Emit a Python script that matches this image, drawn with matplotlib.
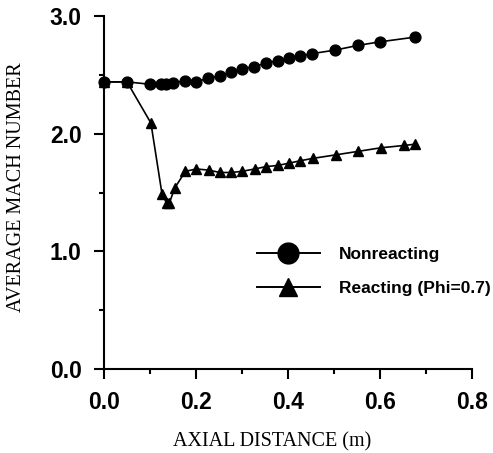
#!/usr/bin/env python3
# -*- coding: utf-8 -*-

import matplotlib
matplotlib.use("Agg")
import matplotlib.pyplot as plt
from matplotlib.lines import Line2D
from matplotlib.ticker import MultipleLocator

# 无反应流
x_nonreact = [0.0, 0.05, 0.10, 0.124, 0.135, 0.149, 0.176, 0.20, 0.225, 0.252,
              0.276, 0.30, 0.327, 0.352, 0.378, 0.402, 0.427, 0.452, 0.502,
              0.552, 0.599, 0.675]
y_nonreact = [2.44, 2.44, 2.42, 2.42, 2.42, 2.43, 2.45, 2.44, 2.47, 2.49,
              2.52, 2.55, 2.57, 2.60, 2.62, 2.64, 2.66, 2.68, 2.71,
              2.75, 2.78, 2.82]

# 反应流 (Phi=0.7)
x_react = [0.0, 0.05, 0.102, 0.126, 0.136, 0.142, 0.154, 0.177, 0.201, 0.228,
           0.252, 0.276, 0.30, 0.328, 0.352, 0.378, 0.403, 0.427, 0.454,
           0.504, 0.553, 0.602, 0.653, 0.675]
y_react = [2.44, 2.44, 2.09, 1.49, 1.41, 1.41, 1.54, 1.68, 1.70, 1.69,
           1.67, 1.67, 1.68, 1.70, 1.72, 1.73, 1.75, 1.77, 1.79,
           1.82, 1.85, 1.88, 1.90, 1.91]

labels = ["Nonreacting", "Reacting (Phi=0.7)"]

fig = plt.figure(figsize=(4.93, 4.53), dpi=100)
ax = fig.add_axes([104 / 493, 1 - 369 / 453, 368 / 493, 353 / 453])

ax.plot(x_react, y_react, color="black", lw=1.2, marker="^", ms=6.5, clip_on=False, zorder=3)
ax.plot(x_nonreact, y_nonreact, color="black", lw=1.2, marker="o", ms=7.8, clip_on=False, zorder=4)

ax.set_xlim(0, 0.8)
ax.set_ylim(0, 3.0)
ax.xaxis.set_major_locator(MultipleLocator(0.2))
ax.xaxis.set_minor_locator(MultipleLocator(0.1))
ax.yaxis.set_major_locator(MultipleLocator(1.0))
ax.yaxis.set_minor_locator(MultipleLocator(0.5))
ax.xaxis.set_major_formatter(plt.FormatStrFormatter("%.1f"))
ax.yaxis.set_major_formatter(plt.FormatStrFormatter("%.1f"))

for s in ["top", "right"]:
    ax.spines[s].set_visible(False)
for s in ["left", "bottom"]:
    ax.spines[s].set_linewidth(1.5)

ax.tick_params(which="major", direction="out", length=7, width=1.5, pad=9)
ax.tick_params(which="minor", direction="out", length=3.5, width=1.5)
for lab in ax.get_xticklabels() + ax.get_yticklabels():
    lab.set_fontfamily("Liberation Sans")
    lab.set_fontweight("bold")
    lab.set_fontsize(16.5)

ax.set_xlabel("AXIAL DISTANCE (m)", fontfamily="Liberation Serif", fontsize=14.5)
ax.set_ylabel("AVERAGE MACH NUMBER", fontfamily="Liberation Serif", fontsize=14.5)
ax.xaxis.set_label_coords(0.456, -0.206)
ax.yaxis.set_label_coords(-0.238, 0.514)
ax.xaxis.label.set_va("center")
ax.yaxis.label.set_va("center")

handles = [
    Line2D([], [], color="black", lw=1.4, marker="o", ms=15),
    Line2D([], [], color="black", lw=1.4, marker="^", ms=13),
]
ax.legend(handles, labels, loc="upper left", bbox_to_anchor=(257 / 493, 1 - 247 / 453),
          bbox_transform=fig.transFigure, frameon=False, borderpad=0, borderaxespad=0,
          handlelength=3.6, handletextpad=1.1, labelspacing=1.1,
          prop={"family": "Liberation Sans", "weight": "bold", "size": 12.5})

fig.savefig("out.png", dpi=100)
